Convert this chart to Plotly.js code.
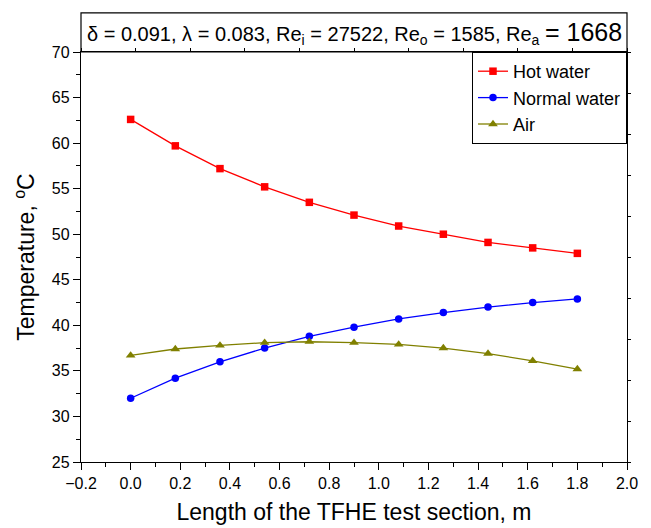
<!DOCTYPE html>
<html>
<head>
<meta charset="utf-8">
<script src="https://cdn.plot.ly/plotly-3.0.1.min.js"></script>
<style>html,body{margin:0;padding:0;background:#fff;}#chart{width:651px;height:528px;}</style>
</head>
<body>
<div id="chart"></div>
<script>
const lengthM = [0.0, 0.18, 0.36, 0.54, 0.72, 0.90, 1.08, 1.26, 1.44, 1.62, 1.80];
const hotWater = [62.6, 59.7, 57.2, 55.2, 53.5, 52.1, 50.9, 50.0, 49.1, 48.5, 47.9];
const normalWater = [32.0, 34.2, 36.0, 37.5, 38.8, 39.8, 40.7, 41.4, 42.0, 42.5, 42.9];
const air = [36.7, 37.4, 37.8, 38.1, 38.2, 38.1, 37.9, 37.5, 36.9, 36.1, 35.2];
const seriesNames = ["Hot water", "Normal water", "Air"];
const titleText = "δ = 0.091, λ = 0.083, Re<sub>i</sub> = 27522, Re<sub>o</sub> = 1585, Re<sub>a</sub> <span style=\"font-size:25px\">= 1668</span>";
const xTitle = "Length of the TFHE test section, m";
const yTitle = "Temperature, <sup>o</sup>C";

const font = "Liberation Sans, Arial, sans-serif";
const traces = [
  {x: lengthM, y: hotWater, name: seriesNames[0], mode: "lines+markers",
   line: {color: "#FF0000", width: 1.3}, marker: {symbol: "square", size: 7.5, color: "#FF0000"}},
  {x: lengthM, y: normalWater, name: seriesNames[1], mode: "lines+markers",
   line: {color: "#0000FF", width: 1.3}, marker: {symbol: "circle", size: 7.5, color: "#0000FF"}},
  {x: lengthM, y: air, name: seriesNames[2], mode: "lines+markers",
   line: {color: "#808000", width: 1.3}, marker: {symbol: "triangle-up", size: 8.5, color: "#808000"}},
  {x: [0], y: [0], xaxis: "x2", yaxis: "y2", showlegend: false, hoverinfo: "skip",
   mode: "markers", marker: {opacity: 0}}
];
const layout = {
  width: 651, height: 528,
  margin: {l: 81, r: 24, t: 52, b: 66},
  paper_bgcolor: "#fff", plot_bgcolor: "#fff",
  font: {family: font, color: "#000", size: 16},
  showlegend: true,
  legend: {x: 1, xanchor: "right", y: 1, yanchor: "top", bgcolor: "#fff",
           bordercolor: "#000", borderwidth: 1, font: {size: 18, family: font},
           tracegroupgap: 0},
  xaxis: {range: [-0.2, 2.0], dtick: 0.2, tick0: -0.2, tickformat: ".1f",
          ticks: "outside", ticklen: 7, tickwidth: 1, tickcolor: "#000",
          minor: {dtick: 0.1, ticks: "outside", ticklen: 4, tickcolor: "#000"},
          showline: true, linecolor: "#000", linewidth: 1.2, showgrid: false, zeroline: false,
          tickfont: {size: 16}, title: {text: xTitle, font: {size: 23}, standoff: 12}},
  yaxis: {range: [25, 70], dtick: 5, ticks: "outside", ticklen: 7, tickwidth: 1, tickcolor: "#000",
          minor: {dtick: 2.5, ticks: "outside", ticklen: 4, tickcolor: "#000"},
          showline: true, linecolor: "#000", linewidth: 1.2, showgrid: false, zeroline: false,
          tickfont: {size: 16}, title: {text: yTitle, font: {size: 23}, standoff: 10}},
  xaxis2: {overlaying: "x", side: "top", range: [-0.2, 2.0], tick0: -0.2, dtick: 0.22,
           ticks: "outside", ticklen: 3, tickcolor: "#000", showticklabels: false,
           showline: true, linecolor: "#000", linewidth: 1.2, showgrid: false, zeroline: false},
  yaxis2: {overlaying: "y", side: "right", range: [25, 70], tick0: 25, dtick: 4.5,
           ticks: "outside", ticklen: 3, tickcolor: "#000", showticklabels: false,
           showline: true, linecolor: "#000", linewidth: 1.2, showgrid: false, zeroline: false},
  shapes: [{type: "rect", xref: "paper", yref: "paper", x0: 0, x1: 1, y0: 1, y1: 1.0952,
            line: {color: "#000", width: 1.2}, fillcolor: "rgba(0,0,0,0)"}],
  annotations: [{xref: "paper", yref: "paper", x: 0.5, y: 1.047, xanchor: "center", yanchor: "middle",
                 text: titleText, showarrow: false, font: {size: 20, family: font}}]
};
Plotly.newPlot("chart", traces, layout, {displayModeBar: false, staticPlot: true});
</script>
</body>
</html>
